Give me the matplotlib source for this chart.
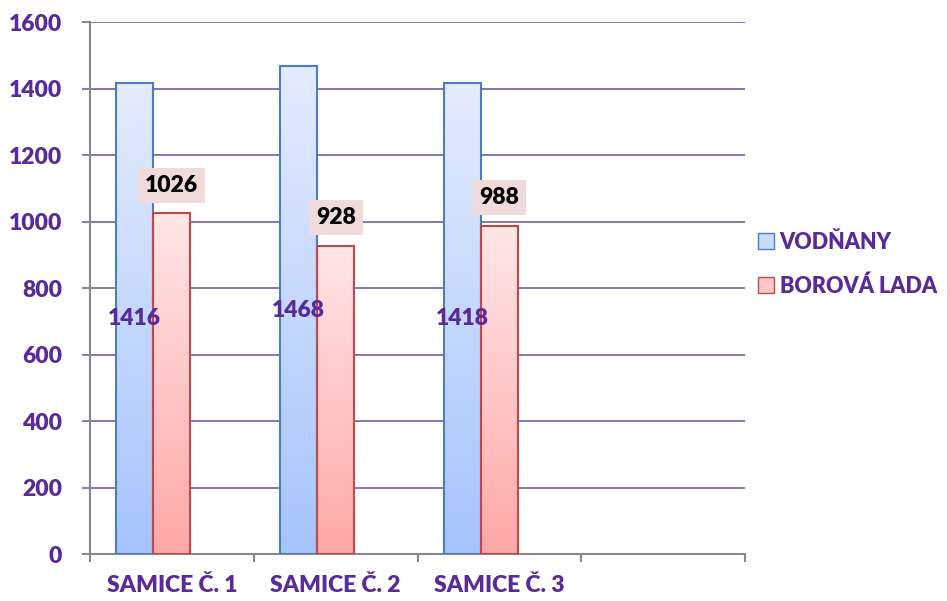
#!/usr/bin/env python3

import numpy as np
import matplotlib
matplotlib.use("Agg")
import matplotlib.pyplot as plt
from matplotlib.patches import Patch

# Data
categories = ["SAMICE Č. 1", "SAMICE Č. 2", "SAMICE Č. 3", ""]
vodnany = [1416, 1468, 1418]
borova = [1026, 928, 988]
series_names = ["VODŇANY", "BOROVÁ LADA"]
yticks = [0, 200, 400, 600, 800, 1000, 1200, 1400, 1600]

PURPLE = "#5a2a9a"
GRID = "#8466ac"
FONT = "Lato"
WEIGHT = "heavy"
FS = 16.5


def gradient_bars(ax, bars, top_color, bottom_color):
    grad = np.linspace(0, 1, 256).reshape(-1, 1)
    c1 = np.array(matplotlib.colors.to_rgb(top_color))
    c2 = np.array(matplotlib.colors.to_rgb(bottom_color))
    img = c1 * (1 - grad[..., None]) + c2 * grad[..., None]
    for b in bars:
        x, y = b.get_x(), b.get_y()
        w, h = b.get_width(), b.get_height()
        im = ax.imshow(img, extent=[x, x + w, y, y + h], aspect="auto",
                       origin="upper", zorder=2)
        im.set_clip_path(b)
        b.set_facecolor("none")


def main():
    fig = plt.figure(figsize=(9.47, 6.01), dpi=100)
    ax = fig.add_axes([0.095, 0.078, 0.692, 0.885])

    x = np.arange(len(vodnany))
    w = 0.227

    b1 = ax.bar(x - w, vodnany, w, facecolor="none", edgecolor="#4a7ec0",
                linewidth=1.5, zorder=3)
    b2 = ax.bar(x, borova, w, facecolor="none", edgecolor="#c04848",
                linewidth=1.5, zorder=3)
    gradient_bars(ax, b1, "#e4ecfc", "#a6c4fc")
    gradient_bars(ax, b2, "#ffe6e6", "#ffa8a8")

    # data labels
    for xi, v in zip(x, vodnany):
        ax.text(xi - w, v / 2, str(v), ha="center", va="center",
                fontsize=FS, fontweight=WEIGHT, color=PURPLE, family=FONT,
                zorder=5)
    for xi, v in zip(x, borova):
        ax.text(xi, v + 84, str(v), ha="center", va="center",
                fontsize=FS, fontweight=WEIGHT, color="black", family=FONT,
                zorder=5,
                bbox=dict(boxstyle="square,pad=0.3", facecolor="#f0dada",
                          edgecolor="none"))

    ax.set_xlim(-0.5, len(categories) - 0.5)
    ax.set_ylim(0, 1600)
    ax.set_yticks(yticks)
    ax.yaxis.grid(True, color=GRID, linewidth=1.3)
    ax.set_axisbelow(True)

    ax.set_xticks(np.arange(len(categories)))
    ax.set_xticklabels(categories)
    ax.set_xticks(np.arange(len(categories) + 1) - 0.5, minor=True)
    ax.tick_params(axis="x", which="major", length=0, pad=15)
    ax.tick_params(axis="x", which="minor", length=6, color="#888888", width=1.5)
    ax.tick_params(axis="y", length=6, color="#888888", width=1.5, pad=14)

    for lbl in ax.get_xticklabels() + ax.get_yticklabels():
        lbl.set_fontsize(FS)
        lbl.set_fontweight(WEIGHT)
        lbl.set_color(PURPLE)
        lbl.set_family(FONT)

    for s in ["top", "right"]:
        ax.spines[s].set_visible(False)
    for s in ["left", "bottom"]:
        ax.spines[s].set_color("#888888")
        ax.spines[s].set_linewidth(1.5)

    handles = [Patch(facecolor="#c8dcfc", edgecolor="#4a7ec0"),
               Patch(facecolor="#ffc8c8", edgecolor="#c04848")]
    leg = ax.legend(handles, series_names, loc="center left",
                    bbox_to_anchor=(0.99, 0.545), frameon=False,
                    handlelength=0.75, handleheight=0.75, handletextpad=0.25,
                    labelspacing=1.05,
                    prop=dict(family=FONT, weight=WEIGHT, size=15.5))
    for t in leg.get_texts():
        t.set_color(PURPLE)

    plt.savefig("out.png", dpi=100)


if __name__ == "__main__":
    main()
